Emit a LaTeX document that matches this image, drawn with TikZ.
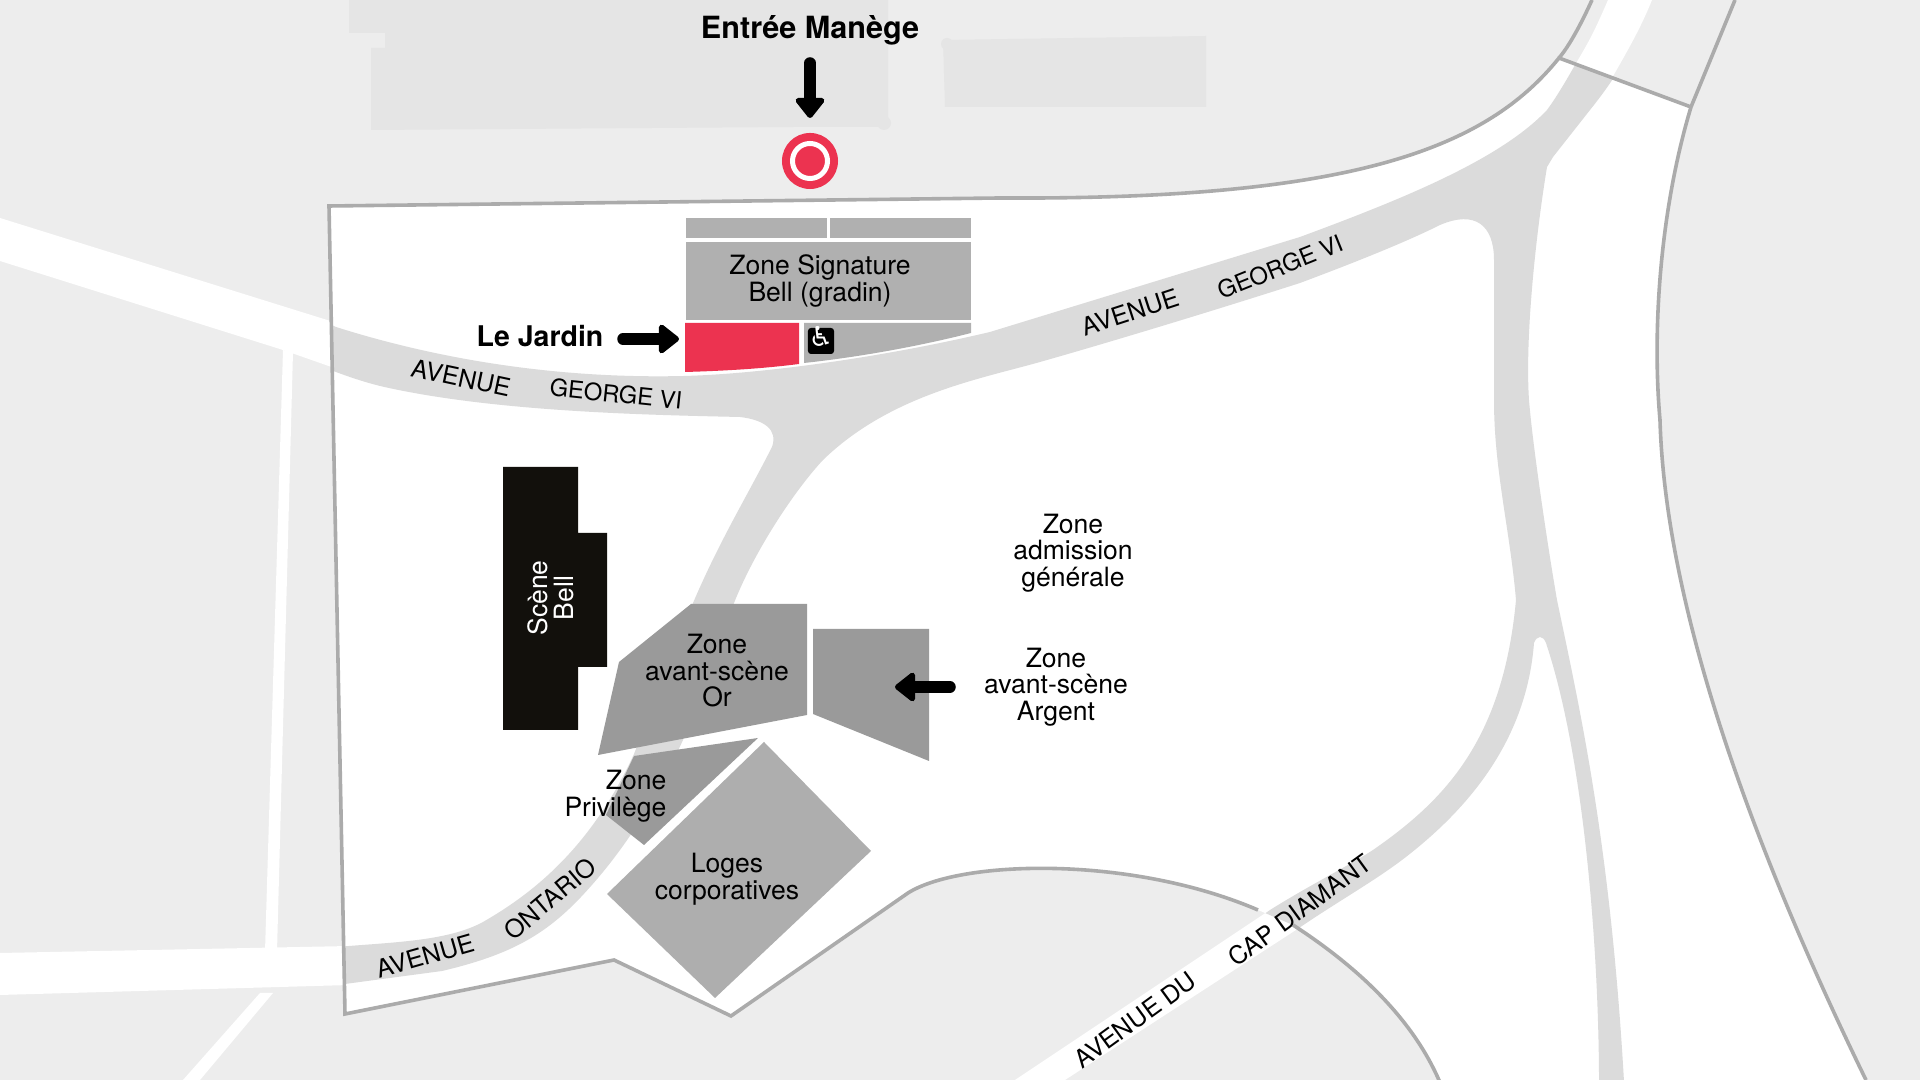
\documentclass[tikz,border=0pt]{standalone}
\usepackage{fontspec}
\setmainfont{TeX Gyre Heros}
\newfontfamily\symbolfont{DejaVu Sans}
\usetikzlibrary{arrows.meta,positioning}
\definecolor{mapgrey}{HTML}{EDEDED}
\definecolor{buildinggrey}{HTML}{E5E5E5}
\definecolor{roadgrey}{HTML}{DBDBDB}
\definecolor{linegrey}{HTML}{ABABAB}
\definecolor{zonegrey}{HTML}{B0B0B0}
\definecolor{lodgegrey}{HTML}{AEAEAE}
\definecolor{frontgrey}{HTML}{9A9A9A}
\definecolor{jardinred}{HTML}{EC3350}
\definecolor{stageblack}{HTML}{12100C}
\tikzstyle{zonelabel} = [align=center,inner sep=0,font=\fontsize{7.55}{7.55}\selectfont]
\tikzstyle{roadlabel} = [inner sep=0,font=\fontsize{7.1}{7.1}\selectfont]
\tikzstyle{georgelabel} = [inner sep=0,font=\fontsize{6.75}{7}\selectfont]
\tikzstyle{callout} = [inner sep=0,font=\fontsize{8.7}{9}\selectfont\bfseries]
\tikzstyle{pointer} = [line width=0.115cm,line cap=round,-{Triangle[round,length=0.22cm,width=0.33cm,line width=0.1cm]}]
\tikzstyle{boundary} = [draw=linegrey,line width=0.036cm,line join=miter]
\def \rightedge {(1866,1080) .. controls (1715,770) and (1664,560) .. (1660,420) .. controls (1652,330) and (1660,210) .. (1691,107)}
\def \topedge {-- (1559,58) .. controls (1485,150) and (1350,200) .. (1000,198) -- (329,206) -- (345,1014) -- (614,960) -- (731,1016) -- (908,893)}
\def \domecurve {.. controls (960,860) and (1130,855) .. (1258,910)}
\def \domerest {-- (1293,925) .. controls (1370,975) and (1420,1030) .. (1443,1090)}
\begin{document}
\begin{tikzpicture}[x=0.01cm,y=-0.01cm]
      \useasboundingbox (0,0) rectangle (1920,1080);
      \fill[mapgrey] (0,0) rectangle (1920,1080);
      \fill[buildinggrey] (349,0) -- (349,33) -- (385,33) -- (385,48) -- (371,48) -- (371,130) -- (795,127) -- (880,127) -- (888,124) -- (888,0) -- cycle;
      \fill[buildinggrey] (884,123) circle (0.07cm);
      \fill[buildinggrey] (943,40) -- (1206,36) -- (1206,107) -- (945,107) -- cycle;
      \fill[buildinggrey] (947,44) circle (0.06cm);
      \fill[white] (0,218) -- (340,324) -- (340,370) -- (283,350) -- (0,261) -- cycle;
      \fill[white] (283,350) -- (293,352) -- (277,952) -- (265,952) -- cycle;
      \fill[white] (0,953) -- (350,946) -- (350,985) -- (0,995) -- cycle;
      \fill[white] (260,993) -- (273,993) -- (200,1080) -- (183,1080) -- cycle;
      \fill[white] (1608,0) .. controls (1595,30) and (1590,40) .. (1575,65) -- (1590,110) -- (1612,78) .. controls (1625,55) and (1640,30) .. (1652,0) -- cycle;
      \fill[white] (1015,1080) -- (1270,910) -- (1299,928) -- (1065,1080) -- cycle;
      \fill[white] \rightedge \topedge \domecurve \domerest -- cycle;
      \begin{scope}
        \clip \rightedge \topedge \domecurve \domerest -- cycle;
        \fill[roadgrey] (300,310) -- (336,327) .. controls (440,360) and (560,379) .. (684,376)
          .. controls (760,374) and (880,358) .. (990,332) -- (1300,237)
          .. controls (1400,200) and (1500,160) .. (1547,110) .. controls (1562,90) and (1590,40) .. (1608,0)
          -- (1652,0) .. controls (1635,50) and (1610,85) .. (1590,110) -- (1553,157) -- (1547,167)
          .. controls (1535,240) and (1525,340) .. (1529,400) .. controls (1533,450) and (1550,560) .. (1557,600)
          .. controls (1580,710) and (1612,850) .. (1625,1100) -- (1599,1100)
          .. controls (1600,960) and (1585,760) .. (1546,643) .. controls (1543,635) and (1537,635) .. (1534,643)
          .. controls (1528,720) and (1490,790) .. (1411,853) .. controls (1380,878) and (1340,900) .. (1299,928)
          -- (1065,1090) -- (1015,1090) -- (1270,910) .. controls (1310,885) and (1350,865) .. (1373,850)
          .. controls (1445,800) and (1503,740) .. (1516,600) .. controls (1510,530) and (1494,470) .. (1494,400)
          -- (1494,260) .. controls (1494,225) and (1475,210) .. (1440,225) .. controls (1400,245) and (1340,268) .. (1300,283)
          .. controls (1200,315) and (1100,345) .. (1040,362) .. controls (980,379) and (890,395) .. (823,460) .. controls (795,490) and (755,550) .. (734,603)
          -- (683,740) .. controls (660,790) and (630,845) .. (581,897) .. controls (545,935) and (510,955) .. (442,971)
          -- (300,990) -- (300,950) -- (349,946) .. controls (400,942) and (450,940) .. (483,922)
          .. controls (530,895) and (590,850) .. (634,754) -- (693,603) .. controls (720,540) and (745,500) .. (772,447)
          .. controls (778,430) and (765,420) .. (740,417) .. controls (650,415) and (500,412) .. (389,388) .. controls (360,382) and (330,370) .. (300,358) -- cycle;
      \end{scope}
      \draw[boundary] \rightedge -- (1735,0);
      \draw[boundary] (1691,107) \topedge \domecurve;
      \draw[boundary] (1293,925) \domerest;
      \draw[boundary] (1559,58) .. controls (1570,45) and (1582,22) .. (1592,0);
      \fill[zonegrey] (686,218) rectangle (827,238);
      \fill[zonegrey] (830,218) rectangle (971,238);
      \fill[zonegrey] (686,242) rectangle (971,320);
      \fill[jardinred] (685,323) -- (799,323) -- (799,364) .. controls (760,369) and (720,371) .. (685,372) -- cycle;
      \fill[zonegrey] (804,323) -- (971,323) -- (971,333) .. controls (920,346) and (860,357) .. (804,363) -- cycle;
      \fill[stageblack] (503,467) -- (578,467) -- (578,533) -- (607,533) -- (607,667) -- (578,667) -- (578,730) -- (503,730) -- cycle;
      \fill[frontgrey] (691,604) -- (807,604) -- (807,715) -- (598,755) -- (619,662) -- cycle;
      \fill[frontgrey] (813,629) -- (929,629) -- (929,761) -- (813,714) -- cycle;
      \fill[frontgrey] (634,756) -- (758,738) -- (644,845) -- (606,815) -- cycle;
      \fill[lodgegrey] (764,742) -- (871,851) -- (715,998) -- (607,894) -- cycle;
      \node[circle,fill=jardinred,minimum size=0.56cm,inner sep=0] (entree) at (810,161) {};
      \draw[white,line width=0.05cm] (entree) circle (0.175cm);
      \node[callout] (manege) at (810,30) {Entrée Manège};
      \node[callout,font=\fontsize{8.1}{9}\selectfont\bfseries] (jardin) at (540,336) {Le Jardin};
      \node[zonelabel] (signature) at (820,281) {Zone Signature\\Bell (gradin)};
      \node[zonelabel,text=white,rotate=90] (scene) at (551,598) {Scène\\Bell};
      \node[zonelabel] (or) at (717,671) {Zone\\avant-scène\\Or};
      \node[zonelabel] (argent) at (1056,687) {Zone\\avant-scène\\Argent};
      \node[zonelabel] (admission) at (1073,553) {Zone\\admission\\générale};
      \node[zonelabel,align=right,anchor=east] (privilege) at (667,796) {Zone\\Privilège};
      \node[zonelabel] (loges) at (727,879) {Loges\\corporatives};
      \node[fill=black,text=white,rounded corners=0.03cm,minimum size=0.26cm,inner sep=0,font=\fontsize{7.8}{7.8}\symbolfont] (access) at (821,341) {\raisebox{-0.11cm}{\makebox[0pt]{\smash{♿}}}};
      \node[roadlabel,rotate=-12] (george1) at (461,378) {AVENUE};
      \node[georgelabel,rotate=-6] (george2) at (616,394) {GEORGE VI};
      \node[roadlabel,rotate=18] (george3) at (1130,312) {AVENUE};
      \node[georgelabel,rotate=22] (george4) at (1280,267) {GEORGE VI};
      \node[roadlabel,rotate=16] (ontario1) at (425,956) {AVENUE};
      \node[roadlabel,rotate=40] (ontario2) at (550,899) {ONTARIO};
      \node[roadlabel,rotate=36] (cap1) at (1135,1020) {AVENUE DU};
      \node[roadlabel,rotate=36] (cap2) at (1300,910) {CAP DIAMANT};
      \coordinate (jardintip) at (679,339);
      \coordinate (jardintail) at (623,339);
      \coordinate (argenttip) at (895,687);
      \coordinate (argenttail) at (950,687);
      \coordinate (manegetip) at (810,118);
      \coordinate (manegetail) at (810,63);
      \draw[pointer] (manegetail) -- (manegetip);
      \draw[pointer] (jardintail) -- (jardintip);
      \draw[pointer] (argenttail) -- (argenttip);
    \end{tikzpicture}
\end{document}
